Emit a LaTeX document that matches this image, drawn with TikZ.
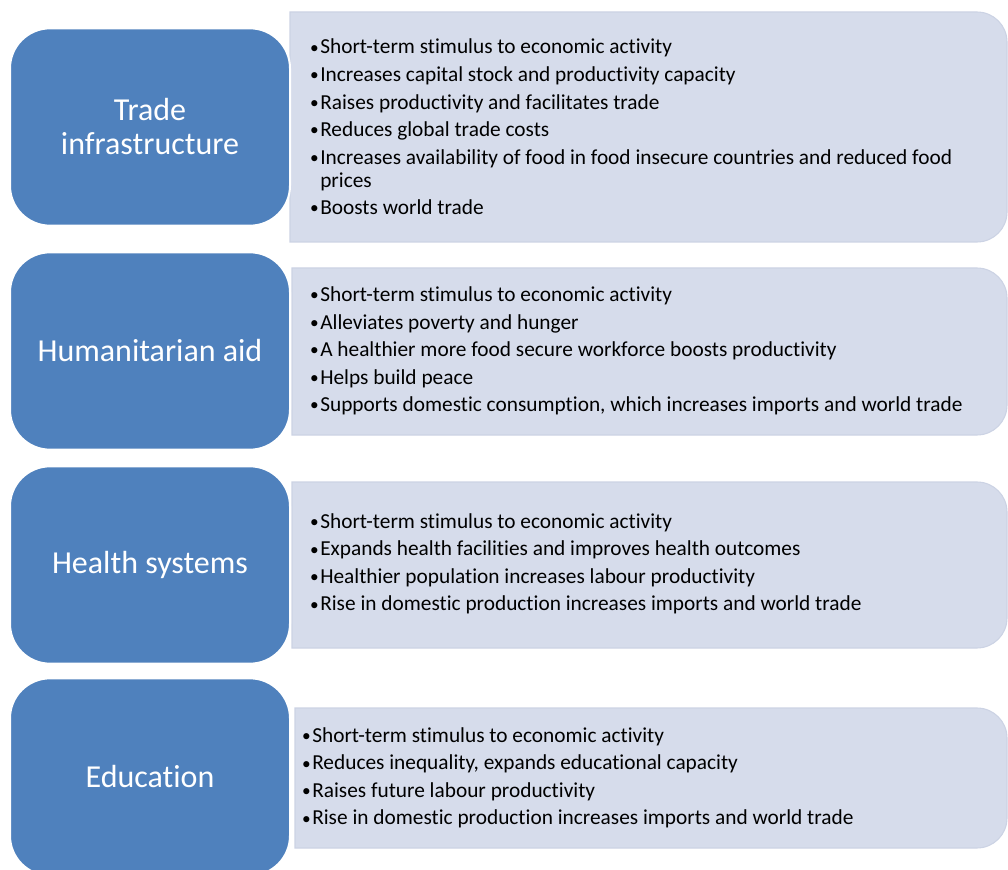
\documentclass[tikz,border=0pt]{standalone}
\usepackage{fontspec}
\setmainfont{Carlito}[Ligatures=NoCommon]
\definecolor{boxblue}{RGB}{79,129,189}
\definecolor{panelfill}{RGB}{214,220,235}
\definecolor{paneledge}{RGB}{204,211,228}

% one bullet item with a hanging indent
\newcommand\bul[1]{\par\noindent\hangindent=9pt\hangafter=1%
  \makebox[9pt][l]{\hspace{1.3pt}\raisebox{0.6pt}{\fontsize{13}{13}\selectfont\textbullet}}#1}

% light panel with square left corners and rounded right corners
% #1 = left x, #2 = top y, #3 = bottom y
\newcommand\panelshape[3]{%
  \draw[panel] (#1,#2) -- (977,#2) arc (-90:0:30) -- (1007,#3-30) arc (0:90:30) -- (#1,#3) -- cycle;}

\begin{document}
\begin{tikzpicture}[x=0.75pt,y=-0.75pt,
  panel/.style={fill=panelfill, draw=paneledge, line width=0.8pt},
  titlebox/.style={fill=boxblue, draw=white, line width=1.5pt, rounded corners=30pt,
    minimum width=210pt, minimum height=148pt, text=white, align=center,
    font=\fontsize{24}{25.5}\selectfont, inner sep=0pt},
  bullets/.style={anchor=west, inner sep=0pt, text=black,
    font=\fontsize{16}{17.25}\selectfont}]
\useasboundingbox (0,0) rectangle (1008,870);

% panels holding the bullet lists
\panelshape{290}{12}{242}
\panelshape{292}{268}{435}
\panelshape{292}{482}{648}
\panelshape{295}{708}{848}

% bullet lists
\node[bullets] (l1) at (308,127) {\begin{minipage}{680pt}\parskip=3.4pt
\bul{Short-term stimulus to economic activity}
\bul{Increases capital stock and productivity capacity}
\bul{Raises productivity and facilitates trade}
\bul{Reduces global trade costs}
\bul{Increases availability of food in food insecure countries and reduced food\\prices}
\bul{Boosts world trade}
\end{minipage}};

\node[bullets] (l2) at (308,351) {\begin{minipage}{680pt}\parskip=3.4pt
\bul{Short-term stimulus to economic activity}
\bul{Alleviates poverty and hunger}
\bul{A healthier more food secure workforce boosts productivity}
\bul{Helps build peace}
\bul{Supports domestic consumption, which increases imports and world trade}
\end{minipage}};

\node[bullets] (l3) at (308,564) {\begin{minipage}{680pt}\parskip=3.4pt
\bul{Short-term stimulus to economic activity}
\bul{Expands health facilities and improves health outcomes}
\bul{Healthier population increases labour productivity}
\bul{Rise in domestic production increases imports and world trade}
\end{minipage}};

\node[bullets] (l4) at (300,778) {\begin{minipage}{680pt}\parskip=3.4pt
\bul{Short-term stimulus to economic activity}
\bul{Reduces inequality, expands educational capacity}
\bul{Raises future labour productivity}
\bul{Rise in domestic production increases imports and world trade}
\end{minipage}};

% blue category boxes
\node[titlebox] (t1) at (150,127) {Trade\\infrastructure};
\node[titlebox] (t2) at (150,351) {Humanitarian aid};
\node[titlebox] (t3) at (150,565) {Health systems};
\node[titlebox] (t4) at (150,777) {Education};
\end{tikzpicture}
\end{document}
